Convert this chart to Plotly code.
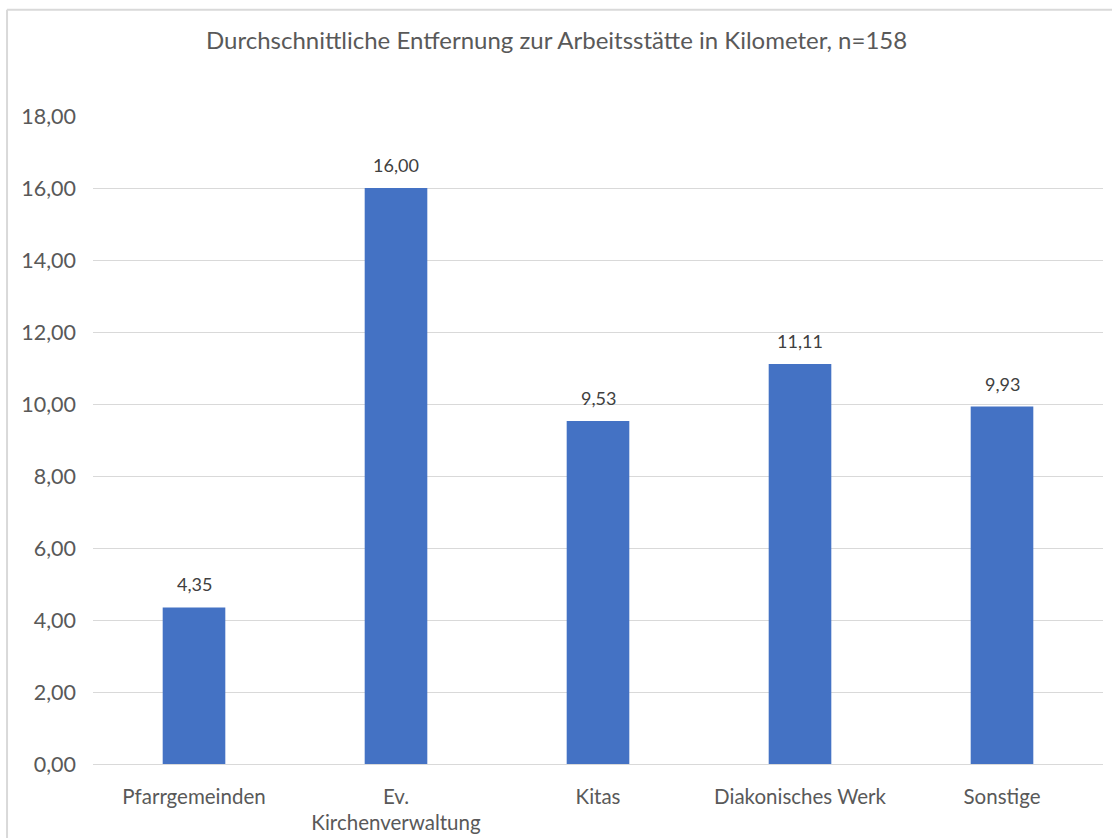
import plotly.graph_objects as go

categories = ["Pfarrgemeinden", "Ev.<br>Kirchenverwaltung", "Kitas", "Diakonisches Werk", "Sonstige"]
values = [4.35, 16.00, 9.53, 11.11, 9.93]
y_ticks = [0, 2, 4, 6, 8, 10, 12, 14, 16, 18]
title_text = "Durchschnittliche Entfernung zur Arbeitsstätte in Kilometer, n=158"


def de_fmt(v):
    return f"{v:.2f}".replace(".", ",")


FONT = "Lato, Open Sans, sans-serif"
TEXT_COLOR = "#595959"

fig = go.Figure(
    go.Bar(
        x=categories,
        y=values,
        marker=dict(color="#4472C4", line=dict(width=0)),
        hoverinfo="skip",
    )
)

# value labels above each bar
value_labels = [
    dict(
        x=c, y=v, xref="x", yref="y",
        text=de_fmt(v),
        showarrow=False,
        xanchor="center", yanchor="bottom",
        yshift=10,
        font=dict(family=FONT, size=18, color="#404040"),
    )
    for c, v in zip(categories, values)
]

fig.update_layout(
    width=1112,
    height=838,
    margin=dict(l=93, r=9, t=116, b=74, autoexpand=False),
    paper_bgcolor="white",
    plot_bgcolor="white",
    bargap=0.69,
    showlegend=False,
    font=dict(family=FONT, color=TEXT_COLOR),
    annotations=[
        dict(
            text=title_text,
            xref="paper", yref="paper",
            x=0.459, y=1.118,
            xanchor="center", yanchor="middle",
            showarrow=False,
            font=dict(family=FONT, size=24, color=TEXT_COLOR),
        )
    ] + value_labels,
    shapes=[
        # chart frame (top and left edges)
        dict(type="line", xref="paper", yref="paper",
             x0=-0.0851, x1=1.02, y0=1.164, y1=1.164,
             line=dict(color="#D9D9D9", width=2)),
        dict(type="line", xref="paper", yref="paper",
             x0=-0.0851, x1=-0.0851, y0=1.164, y1=-0.2,
             line=dict(color="#D9D9D9", width=2)),
    ],
)

fig.update_yaxes(
    range=[0, 18],
    tickvals=y_ticks,
    ticktext=[de_fmt(v) for v in y_ticks],
    showgrid=True,
    gridcolor="#D9D9D9",
    gridwidth=1,
    zeroline=False,
    showline=False,
    ticks="",
    automargin=False,
    ticklabelstandoff=16,
    tickfont=dict(family=FONT, size=21.5, color=TEXT_COLOR),
)

fig.update_xaxes(
    showgrid=False,
    showline=True,
    linecolor="#D9D9D9",
    linewidth=1,
    ticks="",
    automargin=False,
    ticklabelstandoff=14,
    tickfont=dict(family=FONT, size=20.5, color=TEXT_COLOR),
)

fig.write_html("out.html")
